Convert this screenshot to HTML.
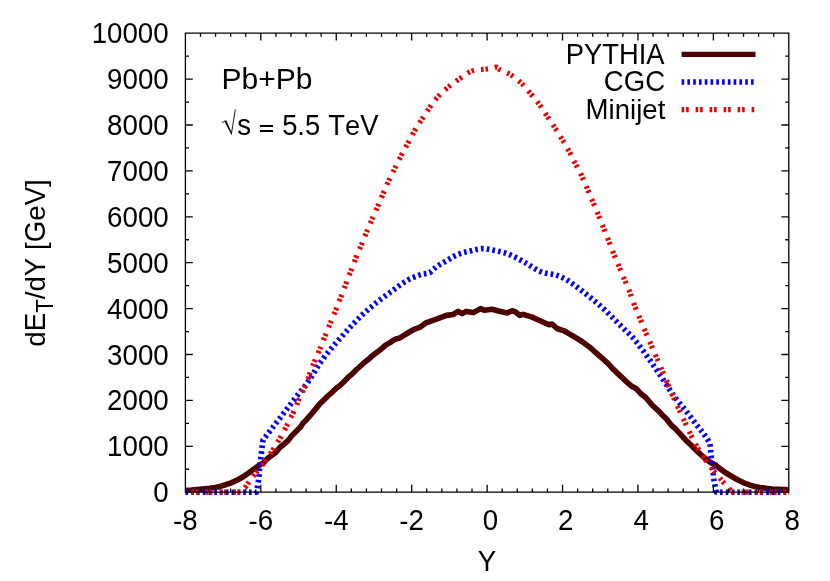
<!DOCTYPE html>
<html><head><meta charset="utf-8"><title>plot</title><style>html,body{margin:0;padding:0;background:#fff}svg{display:block;will-change:transform}</style></head><body>
<svg width="830" height="581" viewBox="0 0 830 581">
<rect width="830" height="581" fill="#fff"/>
<g fill="none" stroke-linejoin="round" stroke-linecap="butt">
<path d="M185.4,490.2 L191.5,490.1 L200.0,489.3 L204.7,488.8 L209.9,488.3 L215.2,487.4 L220.0,486.4 L225.7,484.7 L231.0,482.8 L236.0,480.7 L241.0,478.0 L245.7,475.1 L250.0,471.9 L254.6,468.5 L260.0,464.7 L263.4,462.9 L267.3,458.7 L271.5,455.5 L275.8,452.4 L280.0,447.3 L284.0,444.2 L288.0,440.6 L292.0,435.4 L296.0,431.5 L300.0,427.6 L303.3,422.7 L306.7,419.4 L310.0,415.7 L313.3,411.7 L316.7,407.6 L320.0,403.6 L324.1,399.8 L328.4,395.5 L332.6,391.8 L336.5,388.0 L340.0,385.5 L344.6,381.1 L348.3,377.1 L352.0,374.1 L356.0,370.0 L360.0,366.5 L364.0,362.8 L367.9,359.8 L371.9,356.2 L376.0,352.9 L380.7,349.5 L385.6,345.1 L390.0,342.6 L395.0,339.2 L400.0,337.9 L404.5,335.0 L409.4,332.0 L413.5,329.7 L420.2,327.1 L425.3,323.2 L433.7,320.2 L440.5,317.6 L446.4,315.4 L453.1,314.5 L458.2,311.4 L462.1,313.6 L466.1,311.4 L473.4,312.6 L480.6,308.6 L484.3,310.2 L491.9,309.3 L499.5,311.3 L507.1,313.0 L512.1,310.7 L515.5,311.9 L519.7,315.4 L523.1,314.4 L531.5,316.9 L540.0,320.7 L549.0,324.7 L552.0,324.0 L557.0,328.5 L564.0,330.8 L568.9,333.6 L574.0,336.7 L582.0,341.5 L588.0,345.9 L591.6,348.8 L595.8,352.7 L600.0,356.4 L603.9,359.7 L607.9,363.4 L612.0,367.9 L616.7,372.6 L621.6,377.1 L626.0,381.4 L631.2,385.9 L636.0,388.4 L641.2,394.1 L646.0,397.7 L652.0,405.0 L659.0,411.4 L662.3,415.0 L666.0,418.5 L670.8,424.6 L676.0,429.4 L681.0,434.9 L686.0,440.4 L691.0,445.0 L696.0,450.1 L701.0,454.8 L706.0,459.0 L711.0,462.8 L716.0,465.3 L720.9,469.4 L726.0,473.0 L731.9,476.5 L738.0,480.0 L743.8,482.8 L750.0,485.1 L754.8,486.5 L760.0,487.4 L766.0,488.3 L771.8,489.0 L778.4,489.2 L784.5,489.5 L788.8,489.8" stroke="#4d0000" stroke-width="5.6"/>
<path d="M185.4,492.2 L256.5,492.2 L256.9,490.1 L257.4,487.0 L258.0,483.5 L258.5,480.0 L258.8,477.3 L259.1,474.7 L259.3,471.9 L259.6,468.7 L260.0,465.0 L260.3,462.2 L260.7,458.9 L261.1,455.3 L261.6,451.6 L262.0,448.0 L262.4,444.7 L262.8,442.0 L263.0,440.0 L264.1,438.5 L265.6,436.7 L267.3,434.4 L269.2,432.0 L271.3,429.3 L273.5,426.4 L275.7,423.6 L277.9,420.7 L280.0,418.0 L281.9,415.5 L284.0,412.8 L286.2,410.0 L288.4,407.1 L290.6,404.2 L292.7,401.4 L294.8,398.8 L296.7,396.2 L298.5,394.0 L300.0,392.0 L302.8,388.6 L304.5,386.6 L306.0,384.8 L308.0,382.0 L309.5,379.7 L311.2,377.1 L313.0,374.2 L314.8,371.2 L316.6,368.3 L318.4,365.5 L320.0,363.0 L322.1,360.1 L324.0,357.5 L325.8,355.1 L327.8,352.7 L330.0,350.0 L331.8,347.9 L333.7,345.7 L335.6,343.4 L337.7,341.1 L339.7,338.7 L341.9,336.4 L344.0,334.0 L346.2,331.6 L348.4,329.1 L350.7,326.6 L353.0,324.1 L355.4,321.7 L357.7,319.3 L360.0,317.0 L362.3,314.8 L364.6,312.7 L366.9,310.7 L369.1,308.7 L371.4,306.8 L373.7,304.9 L376.0,303.0 L378.7,300.9 L381.4,298.8 L384.1,296.8 L386.8,294.8 L389.4,292.9 L392.0,291.0 L395.0,288.8 L397.8,286.6 L400.6,284.6 L403.4,282.7 L406.0,281.0 L409.3,279.2 L412.5,277.7 L415.5,276.5 L418.0,275.5 L421.4,274.5 L424.0,274.0 L427.0,273.5 L430.0,272.5 L432.8,270.0 L436.0,267.0 L439.0,265.1 L442.4,263.1 L446.0,261.0 L448.9,259.3 L451.9,257.5 L455.0,255.8 L458.0,254.4 L461.0,253.3 L464.0,252.4 L467.0,251.7 L470.0,251.0 L473.0,250.2 L476.1,249.5 L479.1,248.9 L482.0,248.6 L485.4,248.7 L488.6,249.3 L492.0,250.0 L494.9,250.5 L497.9,251.1 L501.0,251.8 L504.0,252.6 L507.0,253.6 L510.0,254.8 L513.0,256.2 L516.0,257.6 L519.0,259.2 L522.1,260.9 L525.1,262.7 L528.0,264.4 L530.9,266.2 L533.9,268.0 L536.6,269.7 L539.0,271.0 L542.0,272.3 L545.0,273.0 L548.3,273.6 L552.2,274.2 L556.0,275.0 L559.4,276.2 L562.7,277.7 L566.0,279.4 L568.5,280.9 L570.9,282.6 L573.4,284.4 L576.0,286.4 L578.3,288.1 L580.7,289.9 L583.1,291.8 L585.6,293.7 L588.0,295.6 L590.4,297.5 L592.8,299.5 L595.2,301.5 L597.6,303.5 L600.0,305.6 L602.4,307.8 L604.8,310.0 L607.2,312.3 L609.6,314.7 L612.0,317.0 L614.4,319.4 L616.9,321.9 L619.3,324.3 L621.7,326.7 L624.0,329.0 L626.5,331.4 L628.8,333.5 L631.2,335.8 L634.0,339.0 L635.6,341.0 L637.4,343.2 L639.3,345.7 L641.2,348.2 L643.2,350.9 L645.1,353.6 L647.1,356.3 L649.0,359.0 L650.9,361.7 L652.9,364.5 L654.8,367.4 L656.8,370.3 L658.7,373.2 L660.6,375.9 L662.4,378.6 L664.0,381.0 L665.9,383.9 L667.6,386.5 L669.2,388.9 L670.7,391.3 L672.3,393.6 L674.0,396.0 L675.9,398.5 L677.9,401.1 L680.0,403.6 L682.1,406.1 L684.1,408.6 L686.0,411.0 L688.1,413.7 L690.1,416.3 L692.1,418.9 L694.0,421.4 L696.0,424.0 L698.1,426.7 L700.3,429.5 L702.4,432.2 L704.4,434.8 L706.0,437.0 L708.6,441.3 L710.0,444.0 L710.2,446.1 L710.5,449.1 L710.8,452.5 L711.2,456.3 L711.6,460.0 L712.0,463.2 L712.3,466.7 L712.7,470.2 L713.2,473.8 L713.6,477.1 L714.0,480.0 L714.7,483.9 L715.4,487.4 L716.0,490.2 L716.5,492.2 L788.8,492.2" stroke="#0000ff" stroke-width="5.6" stroke-dasharray="2.65 3.13"/>
<path d="M185.4,492.2 L242.0,492.2 L243.2,490.4 L245.0,487.8 L247.0,484.8 L249.1,481.7 L251.0,479.0 L253.3,476.1 L255.6,473.4 L257.8,470.7 L260.0,468.0 L262.1,465.3 L264.1,462.6 L266.0,459.8 L268.0,457.0 L270.0,454.1 L272.1,451.1 L274.1,448.0 L276.0,445.0 L277.8,442.0 L279.6,439.0 L281.3,436.0 L283.0,433.0 L284.6,430.0 L286.1,427.0 L287.5,424.0 L289.0,421.0 L290.5,418.0 L292.1,415.0 L293.6,412.0 L295.0,409.0 L296.3,406.1 L297.4,403.2 L298.6,400.2 L300.0,397.0 L301.3,394.1 L302.8,391.1 L304.3,387.9 L305.8,384.9 L307.0,382.0 L308.2,378.8 L309.1,375.8 L310.0,372.9 L311.0,370.0 L312.2,367.0 L313.4,364.1 L314.7,361.1 L316.0,358.0 L317.4,354.8 L318.8,351.6 L320.2,348.3 L321.6,345.0 L322.9,341.7 L324.1,338.4 L325.4,335.2 L326.6,332.0 L327.8,329.0 L329.1,326.0 L330.3,323.0 L331.6,320.0 L332.9,316.8 L334.3,313.6 L335.7,310.3 L337.0,307.0 L338.3,303.8 L339.5,300.5 L340.8,297.2 L342.0,294.0 L343.2,290.8 L344.5,287.5 L345.8,284.2 L347.0,281.0 L348.2,277.8 L349.5,274.5 L350.8,271.2 L352.0,268.0 L353.2,264.7 L354.5,261.5 L355.7,258.2 L357.0,255.0 L358.3,251.8 L359.7,248.7 L361.1,245.6 L362.4,242.4 L363.7,239.2 L365.0,236.0 L366.3,232.8 L367.6,229.6 L368.9,226.4 L370.3,223.3 L371.6,220.1 L373.0,217.0 L374.4,213.9 L375.8,210.7 L377.2,207.6 L378.6,204.4 L380.0,201.2 L381.3,198.0 L382.6,194.8 L384.0,191.6 L385.4,188.4 L386.7,185.3 L388.1,182.2 L389.6,179.0 L391.2,175.8 L392.8,172.5 L394.4,169.2 L396.0,166.0 L397.5,162.9 L399.0,159.9 L400.5,157.0 L402.0,154.0 L403.6,151.0 L405.3,148.0 L406.9,145.0 L408.6,142.0 L410.2,139.0 L411.8,136.0 L413.3,133.0 L415.0,130.0 L416.8,127.1 L418.6,124.3 L420.5,121.5 L422.4,118.6 L424.3,115.7 L426.1,112.8 L428.0,109.9 L430.0,107.0 L432.0,104.2 L434.1,101.4 L436.3,98.6 L438.6,96.0 L441.1,93.5 L443.7,91.0 L446.3,88.7 L449.0,86.4 L451.7,84.3 L454.4,82.3 L457.2,80.3 L460.0,78.4 L462.9,76.4 L465.9,74.3 L468.9,72.4 L472.0,71.0 L475.4,70.2 L478.9,69.7 L482.3,69.5 L485.2,69.3 L489.1,68.8 L492.0,68.4 L496.6,67.0 L499.5,69.4 L501.7,70.4 L504.5,71.7 L507.6,73.1 L510.5,74.7 L513.3,76.5 L516.0,78.6 L518.7,80.8 L521.3,83.1 L523.7,85.5 L526.0,88.1 L528.2,90.8 L530.4,93.4 L532.6,96.0 L534.8,98.6 L536.9,101.2 L539.0,104.0 L541.1,106.9 L543.1,110.0 L545.1,113.0 L547.0,116.0 L548.9,118.8 L550.8,121.5 L552.6,124.2 L554.4,127.0 L556.2,129.8 L558.0,132.7 L559.8,135.6 L561.6,138.6 L563.5,141.7 L565.4,144.8 L567.2,147.9 L569.0,151.0 L570.6,154.0 L572.1,157.1 L573.5,160.1 L575.0,163.0 L576.5,165.8 L578.0,168.6 L579.5,171.4 L581.0,174.4 L582.5,177.7 L584.0,181.1 L585.5,184.6 L587.0,188.0 L588.4,191.3 L589.8,194.5 L591.1,197.8 L592.5,201.0 L593.9,204.3 L595.3,207.5 L596.7,210.8 L598.0,214.0 L599.3,217.2 L600.5,220.3 L601.8,223.4 L603.0,226.5 L604.2,229.6 L605.5,232.7 L606.8,235.8 L608.0,239.0 L609.2,242.2 L610.5,245.5 L611.7,248.7 L613.0,252.0 L614.3,255.3 L615.7,258.5 L617.1,261.8 L618.4,265.0 L619.7,268.2 L621.0,271.3 L622.3,274.5 L623.6,277.6 L625.0,280.7 L626.3,283.8 L627.7,286.9 L629.0,290.0 L630.2,293.2 L631.3,296.5 L632.4,299.7 L633.6,303.0 L634.9,306.3 L636.3,309.5 L637.7,312.8 L639.0,316.0 L640.3,319.2 L641.5,322.3 L642.7,325.4 L644.0,328.5 L645.3,331.6 L646.7,334.7 L648.1,337.8 L649.5,341.0 L650.9,344.2 L652.2,347.4 L653.6,350.7 L655.0,354.0 L656.2,356.7 L657.4,359.5 L658.6,362.4 L659.8,365.2 L661.0,368.0 L662.2,370.8 L663.4,373.7 L664.7,376.5 L665.9,379.3 L667.0,382.0 L668.3,385.2 L669.6,388.2 L670.8,391.1 L672.0,394.0 L673.2,396.8 L674.4,399.4 L675.7,402.1 L677.0,405.0 L678.4,408.1 L679.9,411.4 L681.5,414.7 L683.0,418.0 L684.5,421.3 L686.0,424.6 L687.5,427.8 L689.0,431.0 L690.5,434.1 L691.9,437.1 L693.4,440.0 L695.0,443.0 L696.7,446.0 L698.4,449.1 L700.2,452.1 L702.0,455.0 L703.7,457.6 L705.4,460.1 L707.1,462.5 L709.0,465.0 L711.1,467.7 L713.3,470.4 L715.6,473.2 L718.0,476.0 L720.0,478.4 L722.2,480.9 L724.3,483.4 L726.3,485.6 L728.0,487.5 L731.1,490.6 L733.0,492.2 L788.8,492.2" stroke="#ec0000" stroke-width="5.2" stroke-dasharray="2.6 1.9 2.6 6.9" stroke-dashoffset="8"/>
<path d="M681.6,54.3H755.5" stroke="#4d0000" stroke-width="5.3"/>
<path d="M681.6,82H755.5" stroke="#0000ff" stroke-width="5.6" stroke-dasharray="2.65 3.13"/>
<path d="M681.6,109.6H755.5" stroke="#ec0000" stroke-width="5.2" stroke-dasharray="2.6 1.9 2.6 6.9"/>
</g>
<path d="M185.4,33.2H788.8V492.2H185.4ZM185.40,492.2v-7.4M185.40,33.2v7.4M200.49,492.2v-3.6M200.49,33.2v3.6M215.57,492.2v-3.6M215.57,33.2v3.6M230.66,492.2v-3.6M230.66,33.2v3.6M245.74,492.2v-3.6M245.74,33.2v3.6M260.83,492.2v-7.4M260.83,33.2v7.4M275.91,492.2v-3.6M275.91,33.2v3.6M291.00,492.2v-3.6M291.00,33.2v3.6M306.08,492.2v-3.6M306.08,33.2v3.6M321.17,492.2v-3.6M321.17,33.2v3.6M336.25,492.2v-7.4M336.25,33.2v7.4M351.34,492.2v-3.6M351.34,33.2v3.6M366.42,492.2v-3.6M366.42,33.2v3.6M381.51,492.2v-3.6M381.51,33.2v3.6M396.59,492.2v-3.6M396.59,33.2v3.6M411.68,492.2v-7.4M411.68,33.2v7.4M426.76,492.2v-3.6M426.76,33.2v3.6M441.85,492.2v-3.6M441.85,33.2v3.6M456.93,492.2v-3.6M456.93,33.2v3.6M472.02,492.2v-3.6M472.02,33.2v3.6M487.10,492.2v-7.4M487.10,33.2v7.4M502.19,492.2v-3.6M502.19,33.2v3.6M517.27,492.2v-3.6M517.27,33.2v3.6M532.36,492.2v-3.6M532.36,33.2v3.6M547.44,492.2v-3.6M547.44,33.2v3.6M562.53,492.2v-7.4M562.53,33.2v7.4M577.61,492.2v-3.6M577.61,33.2v3.6M592.70,492.2v-3.6M592.70,33.2v3.6M607.78,492.2v-3.6M607.78,33.2v3.6M622.87,492.2v-3.6M622.87,33.2v3.6M637.95,492.2v-7.4M637.95,33.2v7.4M653.04,492.2v-3.6M653.04,33.2v3.6M668.12,492.2v-3.6M668.12,33.2v3.6M683.21,492.2v-3.6M683.21,33.2v3.6M698.29,492.2v-3.6M698.29,33.2v3.6M713.38,492.2v-7.4M713.38,33.2v7.4M728.46,492.2v-3.6M728.46,33.2v3.6M743.55,492.2v-3.6M743.55,33.2v3.6M758.63,492.2v-3.6M758.63,33.2v3.6M773.72,492.2v-3.6M773.72,33.2v3.6M788.80,492.2v-7.4M788.80,33.2v7.4M185.4,492.20h7.4M788.8,492.20h-7.4M185.4,469.25h3.6M788.8,469.25h-3.6M185.4,446.30h7.4M788.8,446.30h-7.4M185.4,423.35h3.6M788.8,423.35h-3.6M185.4,400.40h7.4M788.8,400.40h-7.4M185.4,377.45h3.6M788.8,377.45h-3.6M185.4,354.50h7.4M788.8,354.50h-7.4M185.4,331.55h3.6M788.8,331.55h-3.6M185.4,308.60h7.4M788.8,308.60h-7.4M185.4,285.65h3.6M788.8,285.65h-3.6M185.4,262.70h7.4M788.8,262.70h-7.4M185.4,239.75h3.6M788.8,239.75h-3.6M185.4,216.80h7.4M788.8,216.80h-7.4M185.4,193.85h3.6M788.8,193.85h-3.6M185.4,170.90h7.4M788.8,170.90h-7.4M185.4,147.95h3.6M788.8,147.95h-3.6M185.4,125.00h7.4M788.8,125.00h-7.4M185.4,102.05h3.6M788.8,102.05h-3.6M185.4,79.10h7.4M788.8,79.10h-7.4M185.4,56.15h3.6M788.8,56.15h-3.6M185.4,33.20h7.4M788.8,33.20h-7.4" fill="none" stroke="#000" stroke-width="1.3" stroke-linecap="butt" stroke-linejoin="miter"/>
<g font-family="'Liberation Sans', sans-serif" font-size="27.7" fill="#000" style="font-kerning:none;white-space:pre" xml:space="preserve">
<text transform="translate(153.29,502.20) scale(1.0000,1.0600)">0</text>
<text transform="translate(107.08,456.30) scale(1.0000,1.0600)">1000</text>
<text transform="translate(107.08,410.40) scale(1.0000,1.0600)">2000</text>
<text transform="translate(107.08,364.50) scale(1.0000,1.0600)">3000</text>
<text transform="translate(107.08,318.60) scale(1.0000,1.0600)">4000</text>
<text transform="translate(107.08,272.70) scale(1.0000,1.0600)">5000</text>
<text transform="translate(107.08,226.80) scale(1.0000,1.0600)">6000</text>
<text transform="translate(107.08,180.90) scale(1.0000,1.0600)">7000</text>
<text transform="translate(107.08,135.00) scale(1.0000,1.0600)">8000</text>
<text transform="translate(107.08,89.10) scale(1.0000,1.0600)">9000</text>
<text transform="translate(91.67,43.20) scale(1.0000,1.0600)">10000</text>
<text transform="translate(173.09,529.60) scale(1.0000,1.0000)">-</text>
<text transform="translate(182.31,529.60) scale(1.0000,1.0600)">8</text>
<text transform="translate(248.51,529.60) scale(1.0000,1.0000)">-</text>
<text transform="translate(257.73,529.60) scale(1.0000,1.0600)">6</text>
<text transform="translate(323.94,529.60) scale(1.0000,1.0000)">-</text>
<text transform="translate(333.16,529.60) scale(1.0000,1.0600)">4</text>
<text transform="translate(399.36,529.60) scale(1.0000,1.0000)">-</text>
<text transform="translate(408.58,529.60) scale(1.0000,1.0600)">2</text>
<text transform="translate(482.70,529.60) scale(1.0000,1.0600)">0</text>
<text transform="translate(558.12,529.60) scale(1.0000,1.0600)">2</text>
<text transform="translate(633.55,529.60) scale(1.0000,1.0600)">4</text>
<text transform="translate(708.97,529.60) scale(1.0000,1.0600)">6</text>
<text transform="translate(784.40,529.60) scale(1.0000,1.0600)">8</text>
<text transform="translate(477.66,570.70) scale(1.0000,1.0450)">Y</text>
<text transform="translate(45.00,346.70) rotate(-90) scale(1.0000,1.0000)">d</text>
<text transform="translate(45.00,331.29) rotate(-90) scale(1.0000,1.0450)">E</text>
<text transform="translate(53.30,312.82) rotate(-90) scale(1.0000,1.0450)" font-size="22.16">T</text>
<text transform="translate(45.00,299.28) rotate(-90) scale(1.0000,1.0000)">/d</text>
<text transform="translate(45.00,276.18) rotate(-90) scale(1.0000,1.0450)">Y </text>
<text transform="translate(45.00,250.01) rotate(-90) scale(1.0000,1.0000)">[</text>
<text transform="translate(45.00,242.31) rotate(-90) scale(1.0000,1.0450)">G</text>
<text transform="translate(45.00,220.77) rotate(-90) scale(1.0000,1.0000)">e</text>
<text transform="translate(45.00,205.36) rotate(-90) scale(1.0000,1.0450)">V</text>
<text transform="translate(45.00,186.89) rotate(-90) scale(1.0000,1.0000)">]</text>
<text x="221.5" y="88.9" font-size="30">Pb+Pb</text>
<text transform="translate(237.30,134.90) scale(1.0000,1.0400)">s </text>
<path d="M259.9,125.9H273.0M259.9,130.9H273.0" stroke="#000" stroke-width="2" fill="none"/>
<text transform="translate(282.13,134.90) scale(0.9870,1.0600)">5</text>
<text transform="translate(297.33,134.90) scale(0.9870,1.0000)">.</text>
<text transform="translate(304.93,134.90) scale(0.9870,1.0600)">5 </text>
<text transform="translate(328.33,134.90) scale(0.9870,1.0450)">T</text>
<text transform="translate(345.03,134.90) scale(0.9870,1.0000)">e</text>
<text transform="translate(360.24,134.90) scale(0.9870,1.0450)">V</text>
<path d="M222.0,122.9 L225.0,120.7" stroke="#000" stroke-width="0.9" fill="none"/>
<path d="M224.4,121.3 L226.2,120.3 L231.9,133.0 L231.3,134.6 Z" fill="#000"/>
<path d="M231.3,134.5 L235.3,109.4" stroke="#000" stroke-width="0.9" fill="none"/>
<text transform="translate(565.85,63.50) scale(0.9870,1.0450)">PYTHIA</text>
<text transform="translate(603.85,91.00) scale(0.9950,1.0450)">CGC</text>
<text transform="translate(585.60,119.00) scale(0.9970,1.0450)">M</text>
<text transform="translate(608.60,119.00) scale(0.9970,1.0000)">inijet</text>
</g>
</svg>
</body></html>
